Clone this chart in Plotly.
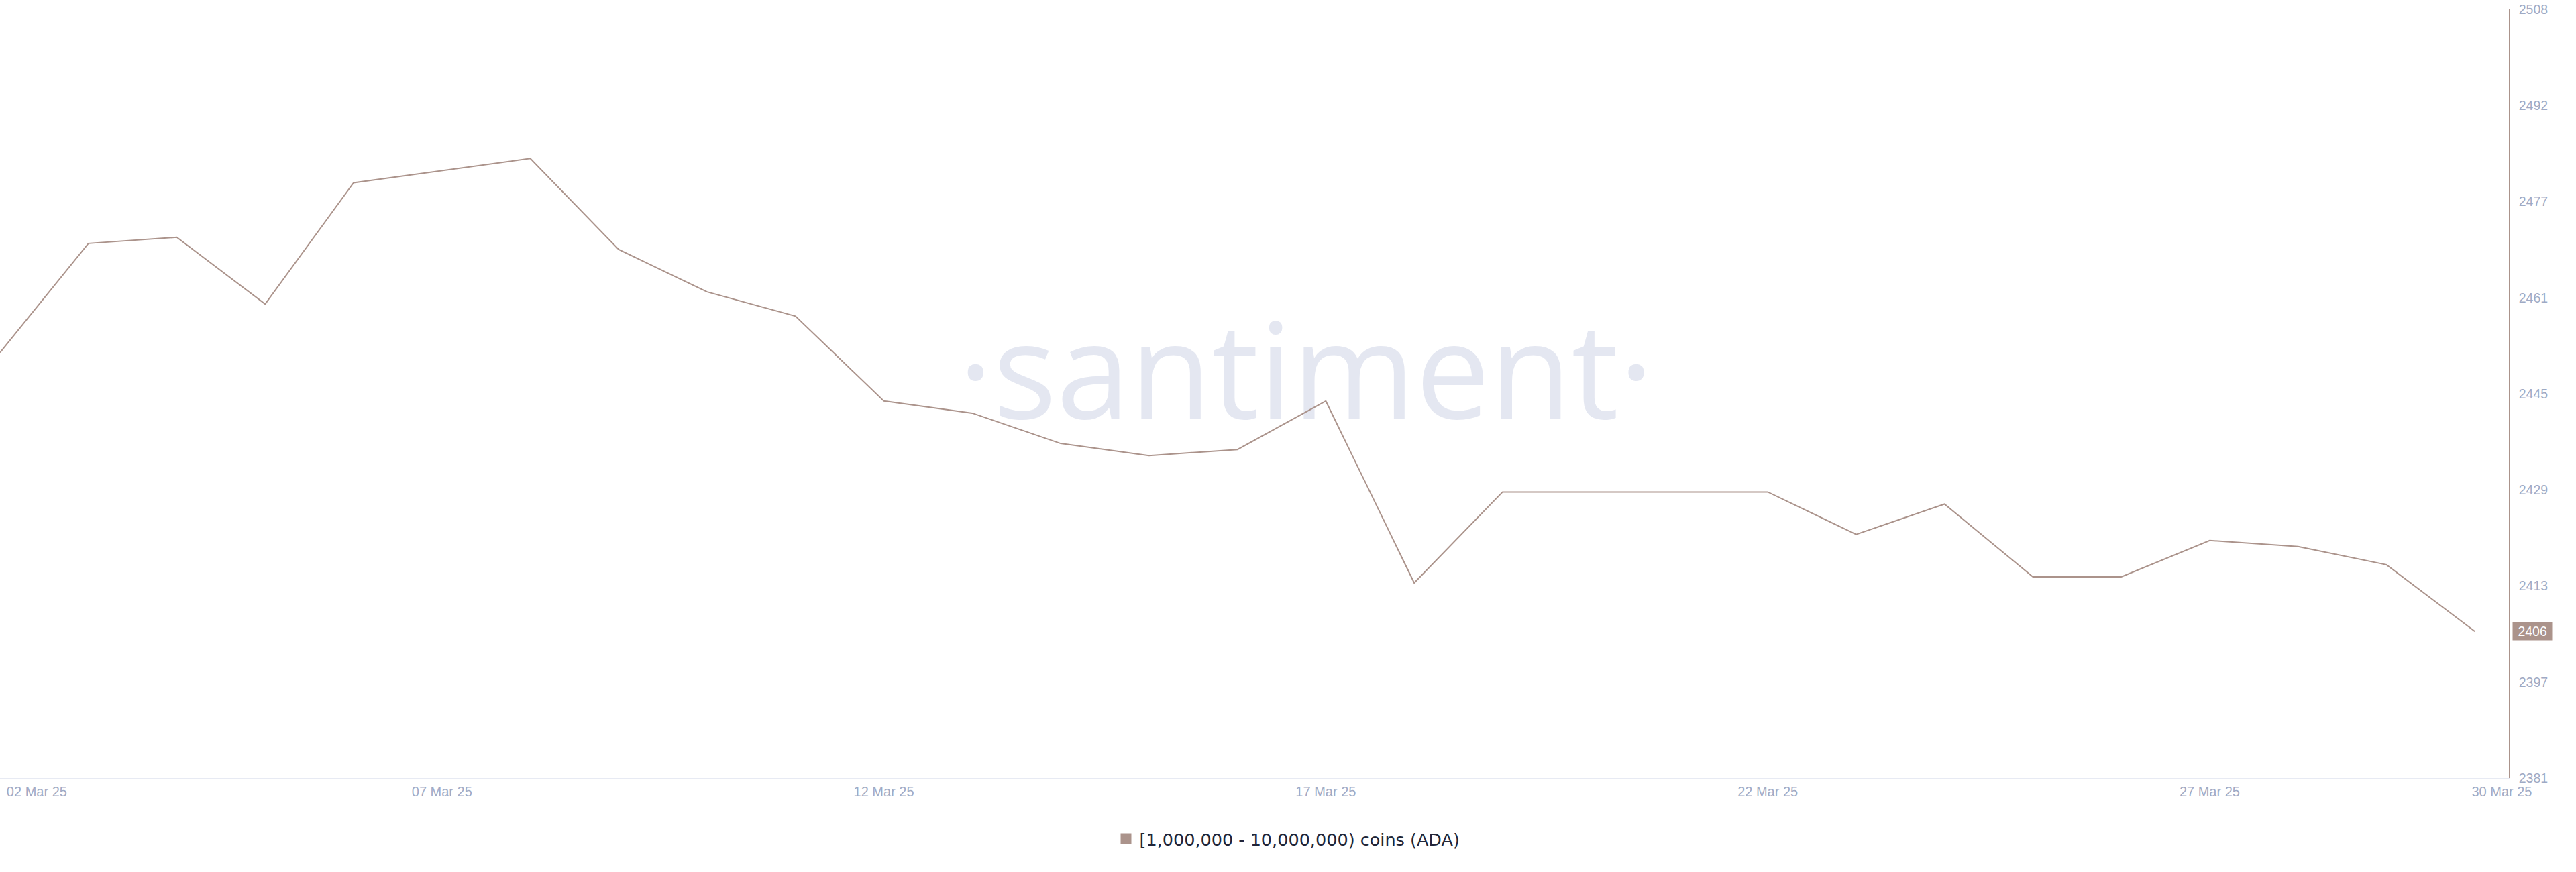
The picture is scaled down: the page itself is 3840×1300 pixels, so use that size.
import pandas as pd
import numpy as np
import plotly.graph_objects as go

# ---- data ----
dates = pd.date_range("2025-03-02", "2025-03-30", freq="D")
holders = [2452, 2470, 2471, 2460, 2480, 2482, 2484, 2469, 2462, 2458,
           2444, 2442, 2437, 2435, 2436, 2444, 2414, 2429, 2429, 2429,
           2429, 2422, 2427, 2415, 2415, 2421, 2420, 2417, 2406]
series_name = "[1,000,000 - 10,000,000) coins (ADA)"

y_tick_labels = ["2381", "2397", "2413", "2429", "2445", "2461", "2477", "2492", "2508"]
x_tick_labels = ["02 Mar 25", "07 Mar 25", "12 Mar 25", "17 Mar 25", "22 Mar 25", "27 Mar 25", "30 Mar 25"]
x_tick_dates = ["2025-03-02 10:00", "2025-03-07", "2025-03-12", "2025-03-17",
                "2025-03-22", "2025-03-27", "2025-03-30 07:20"]

# ---- style ----
LINE_COLOR = "#ab938b"
TICK_COLOR = "#9faac4"
AXIS_LINE = "#e7eaf3"
WATERMARK = "#e4e7f1"

y_range = [2381.8, 2508.6]
x_range = ["2025-03-02 00:00", "2025-03-30 09:15"]

# watermark position as fraction of plot area
x0, x1 = pd.Timestamp(x_range[0]), pd.Timestamp(x_range[1])
wm_x = x0 + (x1 - x0) * 0.5205
wm_y = y_range[0] + (y_range[1] - y_range[0]) * 0.511

fig = go.Figure()
# watermark (drawn first so the line sits above it)
fig.add_trace(go.Scatter(
    x=[wm_x], y=[wm_y], mode="text", text=["·santiment·"],
    textposition="middle center",
    textfont=dict(family="Open Sans", size=198, color=WATERMARK),
    showlegend=False, hoverinfo="skip",
))
fig.add_trace(go.Scatter(
    x=dates, y=holders, mode="lines",
    line=dict(color=LINE_COLOR, width=2),
    showlegend=False, hoverinfo="skip",
))
# legend entry with square swatch
fig.add_trace(go.Scatter(
    x=[None], y=[None], mode="markers", name=series_name,
    marker=dict(symbol="square", size=18, color=LINE_COLOR),
    showlegend=True,
))

fig.update_layout(
    width=3840, height=1300,
    margin=dict(l=0, r=100, t=14, b=140),
    paper_bgcolor="white", plot_bgcolor="white",
    showlegend=True,
    legend=dict(
        orientation="h", xref="container", yref="container",
        x=0.5, xanchor="center", y=0.0377, yanchor="middle",
        font=dict(family="DejaVu Sans", size=25.5, color="#202538"),
        bgcolor="rgba(0,0,0,0)",
    ),
    xaxis=dict(
        type="date", range=x_range,
        tickvals=x_tick_dates, ticktext=x_tick_labels,
        showgrid=False, zeroline=False,
        showline=True, linecolor=AXIS_LINE, linewidth=2,
        ticks="", ticklabelstandoff=1,
        tickfont=dict(family="Liberation Sans", size=20, color=TICK_COLOR),
    ),
    yaxis=dict(
        side="right", range=y_range,
        tickvals=list(np.linspace(y_range[0], y_range[1], len(y_tick_labels))),
        ticktext=y_tick_labels,
        showgrid=False, zeroline=False,
        showline=True, linecolor=LINE_COLOR, linewidth=1.7,
        ticks="", ticklabelstandoff=9,
        tickfont=dict(family="Liberation Sans", size=19.5, color=TICK_COLOR),
    ),
)

# last value label on the right axis
fig.add_annotation(
    text="\u00a0" + str(holders[-1]) + "\u00a0", xref="paper", yref="y",
    x=1, y=holders[-1], xanchor="left", yanchor="middle",
    xshift=5, showarrow=False,
    bgcolor=LINE_COLOR, borderpad=2,
    font=dict(family="Liberation Sans", size=19.5, color="white"),
)

fig.write_html(
    "out.html",
    config={"displayModeBar": False},
    post_script="document.body.style.margin='0';document.body.style.padding='0';",
)
